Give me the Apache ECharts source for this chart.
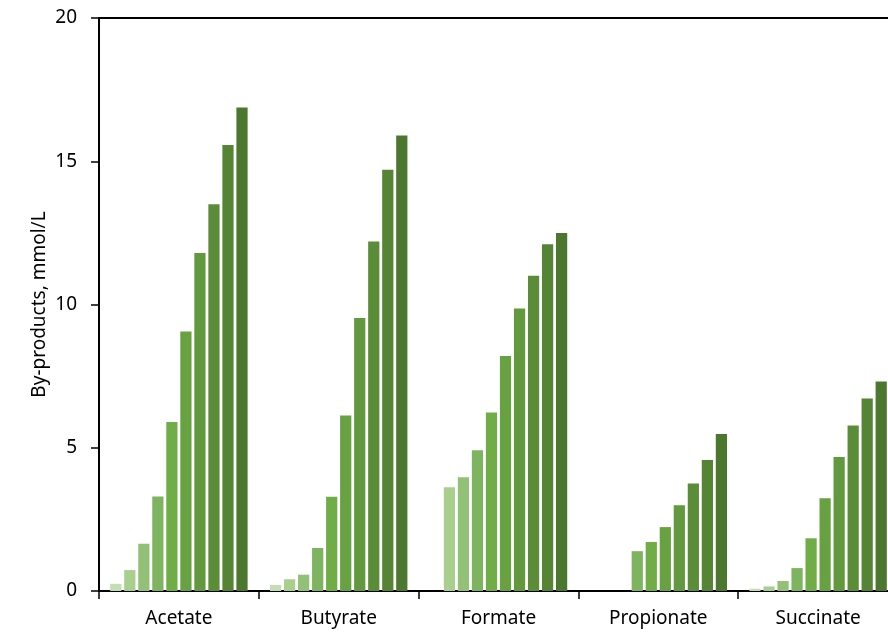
<!DOCTYPE html>
<html>
<head>
<meta charset="utf-8">
<script src="https://cdn.jsdelivr.net/npm/echarts@6/dist/echarts.min.js"></script>
<style>
  html, body { margin: 0; padding: 0; background: #fff; overflow: hidden; }
  /* chart is a bit wider than the window: the last category runs past the edge */
  #chart { width: 898px; height: 635px; }
</style>
</head>
<body>
<div id="chart"></div>
<script>
// by-products per acid, 10 sampling points each (0 = no bar)
const categories = ['Acetate', 'Butyrate', 'Formate', 'Propionate', 'Succinate']
const acetate = [0.25, 0.73, 1.65, 3.3, 5.9, 9.06, 11.8, 13.5, 15.57, 16.88]
const butyrate = [0.21, 0.41, 0.57, 1.5, 3.29, 6.13, 9.53, 12.2, 14.7, 15.9]
const formate = [0, 3.62, 3.97, 4.91, 6.23, 8.2, 9.86, 11.0, 12.1, 12.5]
const propionate = [0, 0, 0, 1.39, 1.71, 2.23, 2.99, 3.75, 4.57, 5.48]
const succinate = [0.08, 0.16, 0.35, 0.8, 1.84, 3.24, 4.68, 5.78, 6.72, 7.31]
const yTicks = [0, 5, 10, 15, 20]

const shades = ['#c3deb1', '#a9cf8f', '#92c077', '#7eb360', '#70ad47',
  '#68a142', '#62983e', '#5b8d39', '#558435', '#4c772e']

const rows = [acetate, butyrate, formate, propionate, succinate]

const chart = echarts.init(document.getElementById('chart'))
const font = 'Noto Sans'

const series = shades.map((color, i) => ({
  name: 'S' + (i + 1),
  type: 'bar',
  data: rows.map(r => (r[i] > 0 ? r[i] : null)),
  itemStyle: { color: color },
  barGap: '25%',
  barCategoryGap: '14%',
  silent: true
}))

chart.setOption({
  animation: false,
  grid: { left: 99, right: 0, top: 18, bottom: 44, containLabel: false },
  xAxis: [
    {
      type: 'category',
      data: categories,
      axisLine: { lineStyle: { color: '#000', width: 2 } },
      axisTick: { show: true, length: 8, lineStyle: { color: '#000', width: 1.5 } },
      axisLabel: { color: '#000', fontFamily: font, fontSize: 19, margin: 18 }
    },
    {
      type: 'category',
      position: 'top',
      data: categories,
      axisLine: { lineStyle: { color: '#000', width: 2 } },
      axisTick: { show: false },
      axisLabel: { show: false }
    }
  ],
  yAxis: {
    type: 'value',
    min: yTicks[0],
    max: yTicks[yTicks.length - 1],
    interval: 5,
    name: 'By-products, mmol/L',
    nameLocation: 'middle',
    nameGap: 50,
    nameMoveOverlap: false,
    nameTextStyle: { color: '#000', fontFamily: font, fontSize: 19 },
    axisLine: { show: true, lineStyle: { color: '#000', width: 2 } },
    axisTick: { show: true, length: 8, lineStyle: { color: '#000', width: 1.5 } },
    axisLabel: { color: '#000', fontFamily: font, fontSize: 19, margin: 22 },
    splitLine: { show: false }
  },
  series: series
})
</script>
</body>
</html>
